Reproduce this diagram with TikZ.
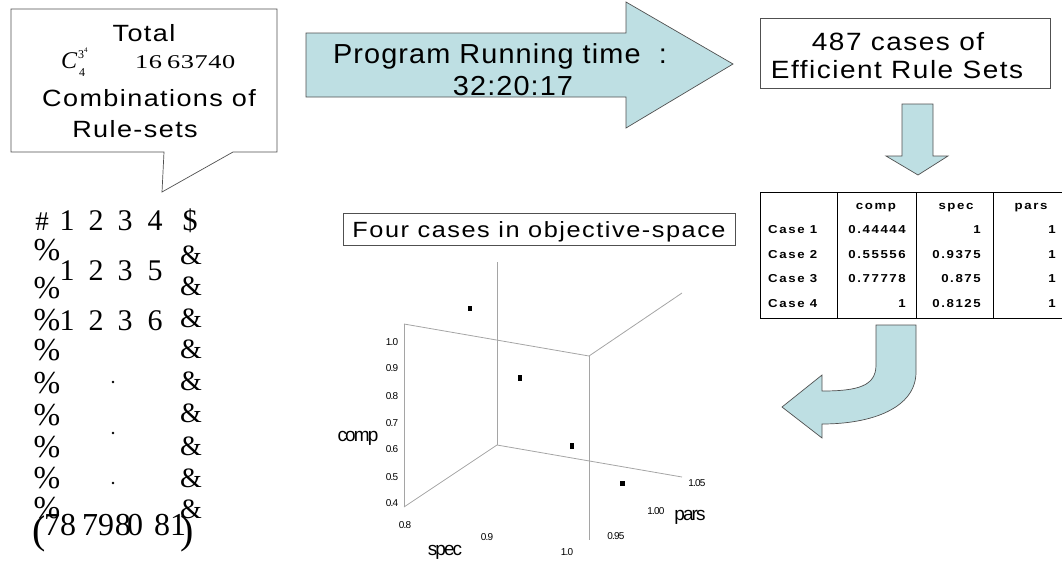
\documentclass[tikz,border=0pt]{standalone}
\usepackage{fontspec}
\setmainfont{Liberation Sans}
\newfontfamily\serif{Liberation Serif}
\definecolor{arrowfill}{RGB}{190,223,227}
\definecolor{axisgray}{RGB}{165,165,165}
\definecolor{edgegray}{RGB}{80,80,80}
\newcommand{\fs}[3]{\fontsize{#1}{#1}\selectfont\addfontfeature{LetterSpace=#2,FakeStretch=#3}}
\newcommand{\sfs}[2]{\serif\fontsize{#1}{#1}\selectfont\addfontfeature{LetterSpace=#2}}
\tikzset{
  arrowshape/.style={draw=edgegray, fill=arrowfill, line width=0.7pt, line join=miter},
  boxline/.style={draw=edgegray, line width=0.7pt},
  tbl/.style={draw=black, line width=0.8pt},
  axis/.style={draw=axisgray, line width=0.8pt},
  txt/.style={inner sep=0pt, anchor=base},
  mat/.style={inner sep=0pt, anchor=base, font=\sfs{30}{0}},
  tick/.style={inner sep=0pt, anchor=center, font=\fs{10}{-8}{1}},
  axlab/.style={inner sep=0pt, anchor=base, font=\fs{19}{-10}{1}},
  cell/.style={inner sep=0pt, anchor=base, font=\bfseries\fs{11.5}{14}{1.15}},
  pt/.style={fill=black}
}
\begin{document}
\begin{tikzpicture}[x=1pt,y=-1pt]
\useasboundingbox (0,0) rectangle (1062,560);

% callout
\draw[boxline, fill=white] (11,9) -- (277,9) -- (277,152) -- (233,152) -- (162,192) -- (164,152) -- (11,152) -- cycle;
\node[txt, font=\fs{23.5}{6}{1.15}] (total) at (144,41) {Total};
\node[txt, anchor=base west, font=\serif\itshape\fontsize{24}{24}\selectfont] (cC) at (61,68) {C};
\node[txt, anchor=base west, font=\serif\fontsize{12}{12}\selectfont] (cs3) at (78,58) {3};
\node[txt, anchor=base west, font=\serif\fontsize{7}{7}\selectfont] (cs4) at (84,52) {4};
\node[txt, anchor=base west, font=\serif\fontsize{12}{12}\selectfont] (csub) at (79,76) {4};
\node[txt, anchor=base west, font={\serif\fontsize{19.5}{19.5}\selectfont\addfontfeature{FakeStretch=1.35,LetterSpace=3}}] (cnum) at (135,68) {16\hspace{5pt}63740};
\node[txt, font=\fs{23.5}{6}{1.15}] (comb) at (149,106) {Combinations of};
\node[txt, font=\fs{23.5}{6}{1.15}] (rules) at (135,137) {Rule-sets};

% big arrow
\draw[arrowshape] (306,33) -- (626,33) -- (626,2) -- (733,64) -- (626,128) -- (626,97) -- (306,97) -- cycle;
\node[txt, font=\fs{27.5}{4}{1.05}] (prog) at (500,63) {Program Running time \ :};
\node[txt, font=\fs{27.5}{4}{1.05}] (ptime) at (513,95) {32:20:17};

% efficient box
\draw[boxline] (760,18) rectangle (1050,88);
\node[txt, font=\fs{25}{6}{1.12}] (eff1) at (898,50) {487 cases of};
\node[txt, font=\fs{25}{6}{1.12}] (eff2) at (897,78) {Efficient Rule Sets};

% down arrow
\draw[arrowshape] (902,104) -- (933,104) -- (933,156) -- (948,156) -- (918,175) -- (886,156) -- (902,156) -- cycle;

% table
\draw[tbl] (1062,192) -- (760,192) -- (760,318) -- (1062,318);
\draw[tbl] (837,192) -- (837,318);
\draw[tbl] (916,192) -- (916,318);
\draw[tbl] (993,192) -- (993,318);
\node[cell] (hcomp) at (876,209) {comp};
\node[cell] (hspec) at (956,209) {spec};
\node[cell] (hpars) at (1031,209) {pars};
\foreach \y/\c/\a/\b/\r in {233/1/0.44444/1/a, 258/2/0.55556/0.9375/b, 282/3/0.77778/0.875/c, 307/4/1/0.8125/d}{
  \node[cell, anchor=base west] (case\r) at (768,\y) {Case \c};
  \node[cell, anchor=base east] (cv\r) at (906,\y) {\a};
  \node[cell, anchor=base east] (sv\r) at (981,\y) {\b};
  \node[cell, anchor=base east] (pv\r) at (1056,\y) {1};
}

% curved arrow
\draw[arrowshape] (876,325) -- (916,325) -- (916,372) .. controls (916,408) and (872,424) .. (822,424) -- (822,438) -- (782,407) -- (822,375) -- (822,391) .. controls (858,391) and (876,386) .. (876,365) -- cycle;

% four cases box
\draw[boxline] (343,213) rectangle (735,245);
\node[txt, font=\fs{22}{7}{1.15}] (four) at (539,237) {Four cases in objective-space};

% 3D plot
\draw[axis] (497,262) -- (497,445);
\draw[axis] (404,324) -- (404,507);
\draw[axis] (404,324) -- (589,356);
\draw[axis] (589,356) -- (589,540);
\draw[axis] (589,356) -- (682,293);
\draw[axis] (497,445) -- (404,507);
\draw[axis] (497,445) -- (682,477);
\fill[pt] (468,306) rectangle (472,311);
\fill[pt] (518,375) rectangle (522,381);
\fill[pt] (570,443) rectangle (574,449);
\fill[pt] (620,481) rectangle (625,486);
\foreach \v/\y in {1.0/342,0.9/368,0.8/396,0.7/423,0.6/449,0.5/477,0.4/503}{
  \node[tick] at (392,\y) {\v};
}
\node[tick] (s08) at (405,525) {0.8};
\node[tick] (s09) at (487,537) {0.9};
\node[tick] (s10) at (567,552) {1.0};
\node[tick] (p095) at (616,536) {0.95};
\node[tick] (p100) at (656,511) {1.00};
\node[tick] (p105) at (697,483) {1.05};
\node[axlab] (lcomp) at (358,441) {comp};
\node[axlab] (lspec) at (445,555) {spec};
\node[axlab] (lpars) at (690,520) {pars};

% left matrix
\node[mat, font=\sfs{27}{0}] (m1) at (42,230) {\#};
\foreach \x/\d in {67/1,96/2,125/3,155/4}{ \node[mat] at (\x,230) {\d}; }
\node[mat] (m2) at (190,230) {\$};
\foreach \x/\d in {67/1,96/2,125/3,155/5}{ \node[mat] at (\x,280) {\d}; }
\foreach \x/\d in {67/1,96/2,125/3,155/6}{ \node[mat] at (\x,330) {\d}; }
\foreach \y in {260,298,330,360,393,425,457,488,518}{ \node[mat, font=\sfs{32}{0}] at (47,\y) {\%}; }
\foreach \y in {264,295,327,358,390,422,455,487,518}{ \node[mat, font=\sfs{28}{0}] at (191,\y) {\&}; }
\fill (113,382) circle (1.3);
\fill (113,433) circle (1.3);
\fill (113,483) circle (1.3);
\node[mat, font=\sfs{40}{0}] (lp) at (39,543) {(};
\node[mat, font=\sfs{40}{0}] (rp) at (187,543) {)};
\node[mat, font=\sfs{32}{0}] (n78) at (60,535) {78};
\node[mat, font=\sfs{32}{0}] (n79) at (98,535) {79};
\node[mat, font=\sfs{32}{-12}] (n80) at (129,535) {80};
\node[mat, font=\sfs{32}{0}] (n81) at (170,535) {81};
\end{tikzpicture}
\end{document}
